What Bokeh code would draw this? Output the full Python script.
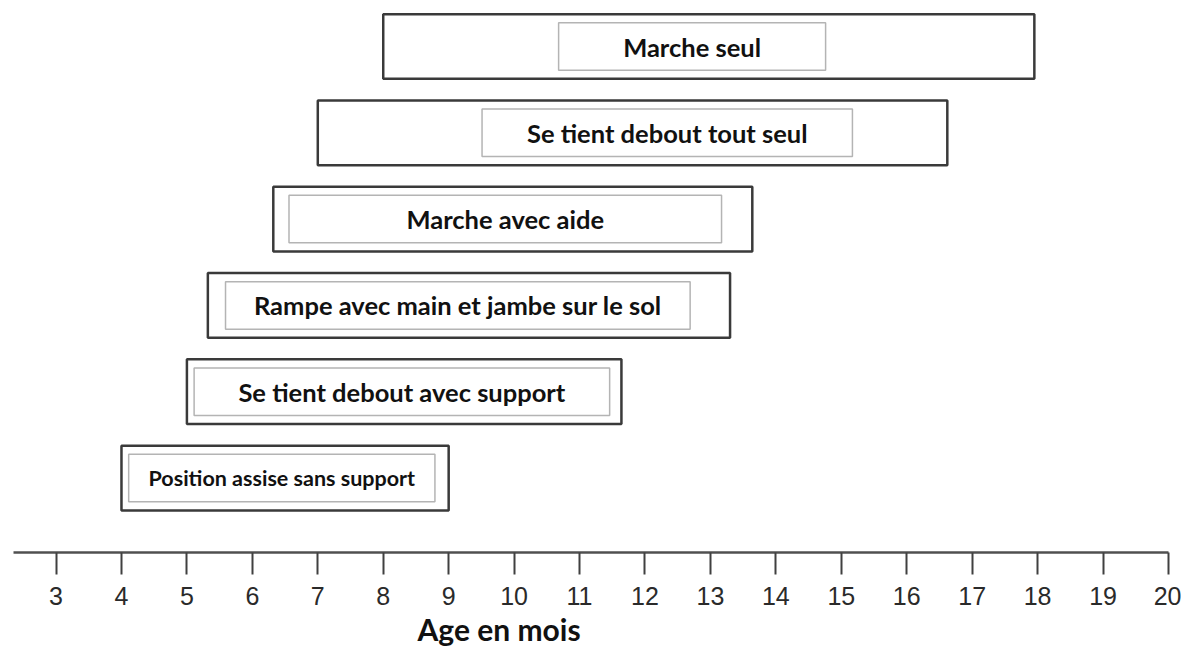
from bokeh.plotting import figure
from bokeh.models import Range1d, FixedTicker, Title, ColumnDataSource
from bokeh.embed import file_html
from bokeh.resources import INLINE
from bokeh.core.properties import value

# ---- data (months) ----
milestones = [
    "Position assise sans support",
    "Se tient debout avec support",
    "Rampe avec main et jambe sur le sol",
    "Marche avec aide",
    "Se tient debout tout seul",
    "Marche seul",
]
start_month = [4.0, 5.0, 5.32, 6.32, 7.0, 8.0]
end_month = [9.0, 11.64, 13.3, 13.64, 16.62, 17.95]
label_box_start = [4.11, 5.11, 5.59, 6.56, 9.51, 10.68]
label_box_end = [8.79, 11.46, 12.69, 13.17, 15.17, 14.76]
tick_months = list(range(3, 21))
axis_title = "Age en mois"

rows = list(range(len(milestones)))
label_sizes = ["21.5px", "25.5px", "25.5px", "25.5px", "25.5px", "25.5px"]

src = ColumnDataSource(dict(
    row=rows,
    start=start_month,
    end=end_month,
    lstart=label_box_start,
    lend=label_box_end,
    lmid=[(a + b) / 2 for a, b in zip(label_box_start, label_box_end)],
    name=milestones,
    size=label_sizes,
))

p = figure(width=1181, height=648, output_backend="svg", toolbar_location=None,
           x_range=Range1d(2.35, 20), y_range=Range1d(-0.863, 5.533),
           y_axis_location=None, min_border_left=13, min_border_right=13,
           min_border_top=0, min_border_bottom=96)
p.outline_line_color = None
p.xgrid.visible = False
p.ygrid.visible = False
p.background_fill_color = "white"
p.border_fill_color = "white"

# outer boxes
p.hbar(y="row", left="start", right="end", height=0.75, source=src,
       fill_color="white", line_color="#3a3a3a", line_width=2.5)
# inner label boxes
p.hbar(y="row", left="lstart", right="lend", height=0.55, source=src,
       fill_color=None, line_color="#b4b4b4", line_width=1.5)
# labels
p.text(x="lmid", y="row", text="name", source=src, text_align="center",
       text_baseline="middle", text_font=value("Lato"), text_font_style="bold",
       text_font_size="size", text_color="#111111")

ax = p.xaxis[0]
ax.ticker = FixedTicker(ticks=tick_months)
ax.axis_line_color = "#505050"
ax.axis_line_width = 2.5
ax.major_tick_line_color = "#404040"
ax.major_tick_line_width = 2
ax.major_tick_out = 22
ax.major_tick_in = 0
ax.minor_tick_line_color = None
ax.major_label_text_font = "Liberation Sans"
ax.major_label_text_font_size = "25px"
ax.major_label_text_color = "#2a2a2a"
ax.major_label_standoff = 12

# axis title, placed left of centre like the reference
p.add_layout(Title(text=axis_title, align="left", offset=404, standoff=3,
                   text_font="Lato", text_font_style="bold",
                   text_font_size="30px", text_color="#111111"), "below")

open("out.html", "w").write(file_html(p, INLINE))
